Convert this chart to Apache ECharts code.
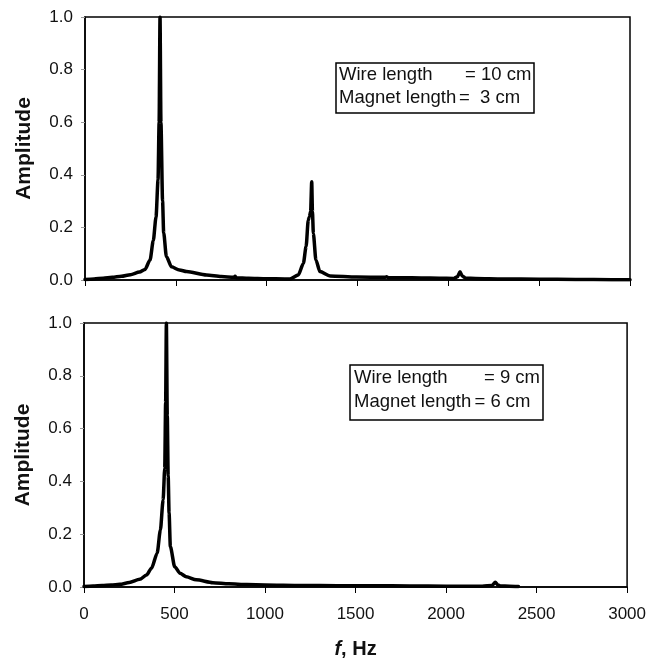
<!DOCTYPE html>
<html>
<head>
<meta charset="utf-8">
<script src="https://cdn.jsdelivr.net/npm/echarts@6/dist/echarts.min.js"></script>
<style>
html,body{margin:0;padding:0;background:#fff;}
#c{width:649px;height:663px;}
</style>
</head>
<body>
<div id="c"></div>
<script>
// ---- data ----
var topFreq = [0, 50, 100, 150, 200, 250, 300, 330, 358, 376, 391, 402, 408, 413, 418, 427, 433, 448, 476, 520, 559, 669, 750, 820, 826, 832, 900, 1000, 1100, 1128, 1174, 1202, 1217, 1229, 1235, 1242, 1248, 1252, 1257, 1271, 1293, 1349, 1495, 1650, 1660, 1670, 1750, 1850, 1950, 2030, 2050, 2064, 2078, 2095, 2150, 2300, 2500, 2700, 2900, 3000];
var topAmp = [0.002, 0.004, 0.007, 0.010, 0.014, 0.020, 0.030, 0.040, 0.076, 0.150, 0.240, 0.380, 0.600, 1.000, 0.600, 0.300, 0.180, 0.089, 0.050, 0.038, 0.032, 0.019, 0.013, 0.010, 0.014, 0.009, 0.007, 0.005, 0.004, 0.004, 0.019, 0.063, 0.127, 0.228, 0.240, 0.260, 0.374, 0.260, 0.177, 0.076, 0.032, 0.015, 0.011, 0.010, 0.012, 0.009, 0.009, 0.008, 0.007, 0.006, 0.012, 0.031, 0.014, 0.007, 0.006, 0.004, 0.003, 0.002, 0.001, 0.001];

var botFreq = [0, 50, 100, 150, 198, 250, 308, 345, 373, 404, 422, 437, 446, 451, 455, 460, 465, 470, 477, 501, 530, 565, 620, 712, 800, 900, 1000, 1200, 1400, 1600, 1800, 2000, 2200, 2255, 2272, 2285, 2300, 2350, 2400];
var botAmp = [0.002, 0.004, 0.006, 0.008, 0.010, 0.017, 0.029, 0.045, 0.071, 0.128, 0.216, 0.330, 0.450, 0.700, 1.000, 0.650, 0.420, 0.280, 0.153, 0.077, 0.052, 0.039, 0.027, 0.016, 0.012, 0.009, 0.008, 0.006, 0.005, 0.005, 0.004, 0.003, 0.003, 0.006, 0.018, 0.008, 0.004, 0.003, 0.002];

var xTicks = [0, 500, 1000, 1500, 2000, 2500, 3000];
var yTicks = ['0.0', '0.2', '0.4', '0.6', '0.8', '1.0'];
// note boxes: [label, "=", value] per line
var topNote = [['Wire length', '=', ' 10 cm'], ['Magnet length', '=', '  3 cm']];
var botNote = [['Wire length', '=', ' 9 cm'], ['Magnet length', '=', ' 6 cm']];
var yTitle = 'Amplitude';
var xTitleItalic = 'f';
var xTitleRest = ', Hz';

function pairs(xs, ys) { return xs.map(function (x, i) { return [x, ys[i]]; }); }

var FONT = "'Liberation Sans', Arial, sans-serif";

function xAxisCfg(gi, showLabels) {
  return {
    type: 'value', gridIndex: gi, min: xTicks[0], max: xTicks[xTicks.length - 1], interval: 500,
    axisLine: { show: true, lineStyle: { color: '#000', width: 1.5 } },
    axisTick: { show: true, length: 6, lineStyle: { color: '#000', width: 1 } },
    splitLine: { show: false },
    axisLabel: { show: showLabels, color: '#111', fontSize: 17, fontFamily: FONT, margin: 19,
      formatter: function (v) { return String(v); } },
    name: showLabels ? '{i|' + xTitleItalic + '}{b|' + xTitleRest + '}' : '',
    nameLocation: 'middle', nameGap: 52,
    nameTextStyle: { rich: {
      i: { fontSize: 20, fontWeight: 'bold', fontStyle: 'italic', fontFamily: FONT, color: '#111' },
      b: { fontSize: 20, fontWeight: 'bold', fontFamily: FONT, color: '#111' }
    } }
  };
}
function yAxisCfg(gi) {
  return {
    type: 'value', gridIndex: gi, min: 0, max: 1, interval: 0.2,
    axisLine: { show: true, lineStyle: { color: '#000', width: 1.5 } },
    axisTick: { show: true, length: 4, lineStyle: { color: '#999', width: 1 } },
    splitLine: { show: false },
    axisLabel: { color: '#111', fontSize: 17, fontFamily: FONT, margin: 12,
      formatter: function (v) { return yTicks[Math.round(v / 0.2)]; } },
    name: yTitle, nameLocation: 'middle', nameGap: 50, nameRotate: 90,
    nameTextStyle: { fontSize: 21, fontWeight: 'bold', fontFamily: FONT, color: '#111' }
  };
}
function note(lines, left, top, keyW, lh, pad) {
  var rich = {};
  var base = { fontSize: 18.5, fontWeight: 'normal', fontFamily: FONT, color: '#111', lineHeight: lh };
  var txt = lines.map(function (ln, i) {
    rich['k' + i] = Object.assign({ width: keyW[i] }, base);
    rich['q' + i] = Object.assign({}, base);
    rich['v' + i] = Object.assign({}, base);
    return '{k' + i + '|' + ln[0] + '}{q' + i + '|' + ln[1] + '}{v' + i + '|' + ln[2] + '}';
  }).join('\n');
  return {
    text: txt, left: left, top: top,
    borderColor: '#000', borderWidth: 1.5, padding: pad,
    textStyle: Object.assign({ rich: rich }, base)
  };
}

var chart = echarts.init(document.getElementById('c'), null, { renderer: 'canvas' });
chart.setOption({
  backgroundColor: '#fff',
  animation: false,
  title: [
    note(topNote, 336, 63, [126, 120], 23, [0, 3, 4, 3]),
    note(botNote, 350, 365, [130, 120.5], 24, [1, 3, 6, 4])
  ],
  grid: [
    { left: 85, right: 19, top: 17, height: 263, show: true, borderColor: '#000', borderWidth: 1.5 },
    { left: 84, right: 20, top: 323, height: 264, show: true, borderColor: '#000', borderWidth: 1.5 }
  ],
  xAxis: [xAxisCfg(0, false), xAxisCfg(1, true)],
  yAxis: [yAxisCfg(0), yAxisCfg(1)],
  series: [
    { type: 'line', xAxisIndex: 0, yAxisIndex: 0, data: pairs(topFreq, topAmp), showSymbol: false,
      lineStyle: { color: '#000', width: 3.5, join: 'round', cap: 'round' }, smooth: 0.25, smoothMonotone: 'x' },
    { type: 'line', xAxisIndex: 1, yAxisIndex: 1, data: pairs(botFreq, botAmp), showSymbol: false,
      lineStyle: { color: '#000', width: 3.5, join: 'round', cap: 'round' }, smooth: 0.25, smoothMonotone: 'x' }
  ]
});
</script>
</body>
</html>
